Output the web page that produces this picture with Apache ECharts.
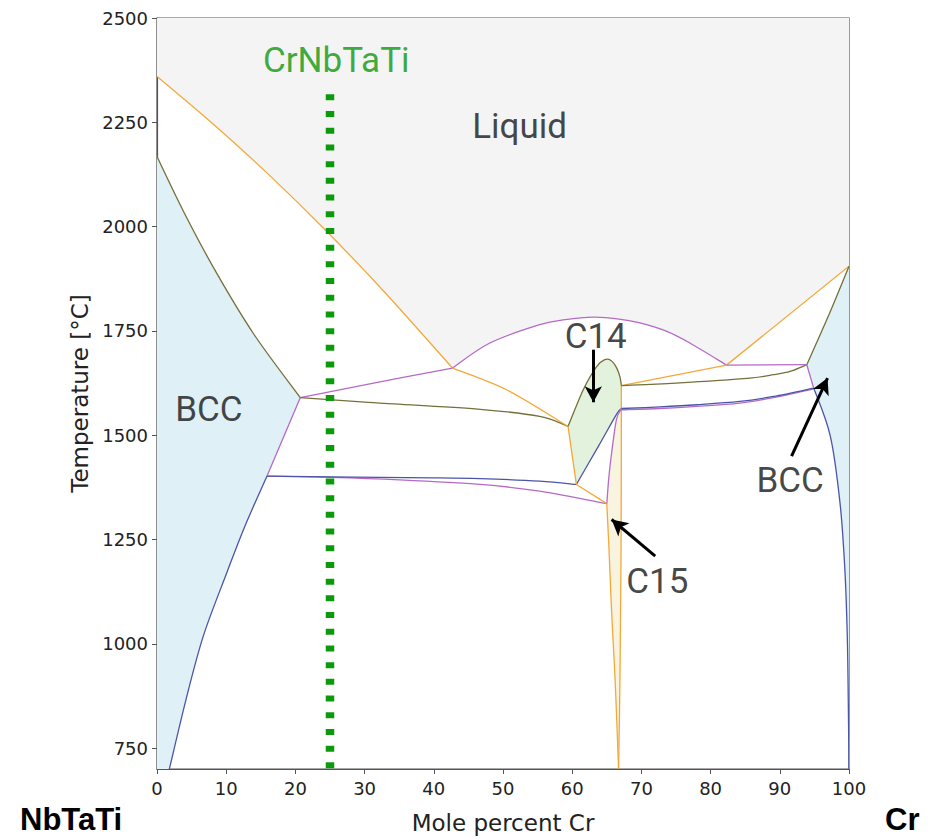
<!DOCTYPE html>
<html>
<head>
<meta charset="utf-8">
<script src="https://cdn.jsdelivr.net/npm/echarts@6/dist/echarts.min.js"></script>
<style>html,body{margin:0;padding:0;background:#fff}#c{width:934px;height:839px}</style>
</head>
<body>
<div id="c"></div>
<script>
// ---- tick labels ----
const xTicks = [0,10,20,30,40,50,60,70,80,90,100];
const yTicks = [750,1000,1250,1500,1750,2000,2250,2500];

// ---- phase boundaries [mole % Cr, temperature °C] ----
const liquidusLeft   = [[0,2360],[8.1,2246],[16,2127],[24.5,1989],[33,1841],[42.7,1661]];
const c14Liquidus    = [[42.7,1661],[48.1,1721],[55.3,1765],[59,1777],[63.1,1783],[66.5,1779],[69.8,1769],[73.5,1750],[77,1721],[82.3,1668]];
const liquidusRight  = [[82.3,1668],[100,1905]];
const bccSolidusLeft = [[0,2168],[4,2031],[8.6,1889],[14,1742],[20.7,1590]];
const bccEdgeLeft    = [[20.7,1590],[15.9,1402]];
const upperEutLeft   = [[20.7,1590],[31.3,1625],[42.7,1661]];
const oliveMid       = [[20.7,1590],[31.3,1578],[46.7,1562],[55.3,1545],[59.4,1521]];
const orangeMid      = [[42.7,1661],[50.5,1609],[59.4,1521]];
const blueMid        = [[15.9,1402],[25,1400],[40,1398],[46.7,1396],[55.3,1390],[60.6,1382]];
const purpleMid      = [[15.9,1402],[25,1399],[35,1393],[46.7,1382],[55.3,1366],[65.0,1336]];
const bccSolvusLeft  = [[15.9,1402],[12.7,1282],[10.1,1171],[6.7,1019],[4.2,867],[1.9,708],[1.75,700]];
const c14Top         = [[59.4,1521],[61.6,1609],[63.5,1664],[64.7,1681],[65.6,1679],[66.4,1662],[66.9,1640],[67.1,1619]];
const c14Bottom      = [[60.6,1382],[63.8,1474],[66.4,1550],[67.1,1564]];
const c14LeftEdge    = [[59.4,1521],[60.6,1382]];
const c15TopEdge     = [[60.6,1382],[65.0,1336]];
const c14RightEdge   = [[67.1,1619],[67.1,1564]];
const c15Right       = [[67.1,1564],[67.1,1450],[67.05,1200],[66.95,1000],[66.85,850],[66.7,700]];
const c15Left        = [[65.0,1336],[65.3,1234],[65.7,1075],[66.2,915],[66.7,700]];
const c15Purple      = [[65.0,1336],[65.3,1400],[65.7,1458],[66.4,1538],[67.1,1562]];
const blueRight      = [[67.1,1564],[72.7,1568],[78,1573],[84.2,1581],[89.1,1593],[94.9,1613]];
const purpleRight    = [[67.1,1561],[72.7,1564],[78,1569],[84.2,1577],[89.1,1590],[94.9,1611]];
const orangeRight    = [[67.1,1619],[82.3,1668]];
const oliveRight     = [[67.1,1619],[75,1625],[85.7,1637],[89,1645],[91.5,1653],[93.9,1669]];
const purpleTopRight = [[82.3,1668],[93.9,1669]];
const bccSolidusRight= [[93.9,1669],[97.0,1785],[100,1905]];
const bccEdgeRight   = [[93.9,1669],[94.9,1613]];
const bccSolvusRight = [[94.9,1613],[97.3,1498],[98.7,1338],[99.4,1179],[99.75,1019],[99.9,859],[100,700]];
const alloyLine      = [[25,2317],[25,700]];

// ---- annotations ----
const labelTexts = ['CrNbTaTi','Liquid','BCC','C14','C15','BCC'];
const labelPos   = [[25.9,2397],[52.4,2241],[7.5,1561],[63.4,1736],[72.3,1149],[91.5,1391]];
const arrows     = [[[63.05,1705],[63.05,1579]],[[72.0,1210],[65.7,1298]],[[91.7,1450],[96.9,1637]]];

const rev = a => a.slice().reverse();
const C = {orange:'#f5a83a', purple:'#b46ac8', blue:'#4b55a8', olive:'#74703a', green:'#0c9a0c'};

// ---- regions: lists of boundary segments ----
const regions = [
  {color:'#f4f4f4', segs:[[[0,2500],[0,2360]], liquidusLeft, c14Liquidus, liquidusRight, [[100,1905],[100,2500]]]},
  {color:'#dff0f6', segs:[[[0,700],[0,2168]], bccSolidusLeft, bccEdgeLeft, bccSolvusLeft, [[1.75,700],[0,700]]]},
  {color:'#dff0f6', segs:[rev(bccSolidusRight), bccEdgeRight, bccSolvusRight, [[100,700],[100,1905]]]},
  {color:'#e2f2dc', segs:[c14Top, c14RightEdge, rev(c14Bottom), c14LeftEdge]},
  {color:'#f8f4df', segs:[c15Purple, c15Right, rev(c15Left)]}
];
const boundaries = [
  [liquidusLeft,C.orange],[c14Liquidus,C.purple],[liquidusRight,C.orange],
  [bccSolidusLeft,C.olive],[bccEdgeLeft,C.purple],[upperEutLeft,C.purple],
  [oliveMid,C.olive],[orangeMid,C.orange],[purpleMid,C.purple],[blueMid,C.blue],
  [bccSolvusLeft,C.blue],[c14Top,C.olive],[c14Bottom,C.blue],[c14LeftEdge,C.orange],[c15TopEdge,C.orange],
  [c14RightEdge,C.orange],[c15Right,C.orange],[c15Left,C.orange],[c15Purple,C.purple],
  [purpleRight,C.purple],[blueRight,C.blue],[orangeRight,C.orange],[oliveRight,C.olive],
  [purpleTopRight,C.purple],[bccSolidusRight,C.olive],[bccEdgeRight,C.purple],[bccSolvusRight,C.blue]
];

// Catmull-Rom -> cubic bezier path through pixel points (rendering only)
function curve(px, start){
  let d = (start ? 'M' : 'L') + px[0][0] + ' ' + px[0][1];
  const n = px.length;
  if (n === 2) return d + 'L' + px[1][0] + ' ' + px[1][1];
  for (let i = 0; i < n - 1; i++){
    const p0 = px[i-1] || px[i], p1 = px[i], p2 = px[i+1], p3 = px[i+2] || px[i+1];
    const c1 = [p1[0] + (p2[0]-p0[0])/6, p1[1] + (p2[1]-p0[1])/6];
    const c2 = [p2[0] - (p3[0]-p1[0])/6, p2[1] - (p3[1]-p1[1])/6];
    d += 'C' + c1[0] + ' ' + c1[1] + ' ' + c2[0] + ' ' + c2[1] + ' ' + p2[0] + ' ' + p2[1];
  }
  return d;
}

function regionSeries(r){
  const all = [].concat(...r.segs);
  return {type:'custom', silent:true, clip:true, z:1, data:all, animation:false,
    renderItem:function(params, api){
      if (params.dataIndex !== 0) return null;
      let d = '';
      r.segs.forEach((s,k) => { d += curve(s.map(p => api.coord(p)), k === 0); });
      return {type:'path', shape:{pathData: d + 'Z'}, style:{fill:r.color, stroke:null}};
    }};
}
function lineSeries(pts, color){
  return {type:'custom', silent:true, clip:true, z:3, data:pts, animation:false,
    renderItem:function(params, api){
      if (params.dataIndex !== 0) return null;
      return {type:'path', shape:{pathData: curve(pts.map(p => api.coord(p)), true)},
        style:{fill:null, stroke:color, lineWidth:1.3}};
    }};
}

const series = regions.map(regionSeries).concat(boundaries.map(b => lineSeries(b[0], b[1])), [
  {type:'line', data:alloyLine, showSymbol:false, symbol:'none', silent:true, z:4, animation:false,
   lineStyle:{color:C.green, width:8.5, type:[6,10.7], cap:'butt'}},
  {type:'scatter', silent:true, z:6, symbolSize:0, animation:false,
   data: labelTexts.map((t,i)=>({value:labelPos[i], label:{formatter:t, color: i===0 ? '#0d960d' : '#161616'}})),
   label:{show:true, position:'inside', fontSize:35, fontFamily:'Roboto'},
   markLine:{silent:true, animation:false, symbol:['none','arrow'], symbolSize:[13,16],
     lineStyle:{color:'#000', width:3, type:'solid'}, label:{show:false},
     data: arrows.map(a => [{coord:a[0]},{coord:a[1]}])}}
]);

const chart = echarts.init(document.getElementById('c'), null, {renderer:'svg'});
chart.setOption({
  animation:false,
  backgroundColor:'#fff',
  grid:{left:157, right:85, top:18, bottom:69, show:true, borderColor:'#555', borderWidth:1.2, backgroundColor:'transparent'},
  xAxis:{type:'value', min:0, max:100, interval:10,
    name:'Mole percent Cr', nameLocation:'middle', nameGap:42,
    nameTextStyle:{fontFamily:'DejaVu Sans', fontSize:23, color:'#222'},
    axisLine:{show:true, lineStyle:{color:'#555', width:1.2}},
    axisTick:{show:true, length:5, lineStyle:{color:'#555'}},
    axisLabel:{fontFamily:'DejaVu Sans', fontSize:18, color:'#222', margin:10, formatter: v => String(v)},
    splitLine:{show:false}},
  yAxis:{type:'value', min:700, max:2500,
    name:'Temperature [°C]', nameLocation:'middle', nameGap:65, nameRotate:90,
    nameTextStyle:{fontFamily:'DejaVu Sans', fontSize:23, color:'#222'},
    axisLine:{show:true, lineStyle:{color:'#555', width:1.2}},
    axisTick:{show:true, length:5, lineStyle:{color:'#555'}, customValues:yTicks},
    axisLabel:{fontFamily:'DejaVu Sans', fontSize:18, color:'#222', margin:9, customValues:yTicks, formatter: v => String(v)},
    splitLine:{show:false}},
  graphic:[
    {type:'text', left:20, top:804, style:{text:'NbTaTi', font:'bold 31px "Liberation Sans", Arial', fill:'#000'}},
    {type:'text', left:885, top:804, style:{text:'Cr', font:'bold 31px "Liberation Sans", Arial', fill:'#000'}}
  ],
  series: series
});
</script>
</body>
</html>
